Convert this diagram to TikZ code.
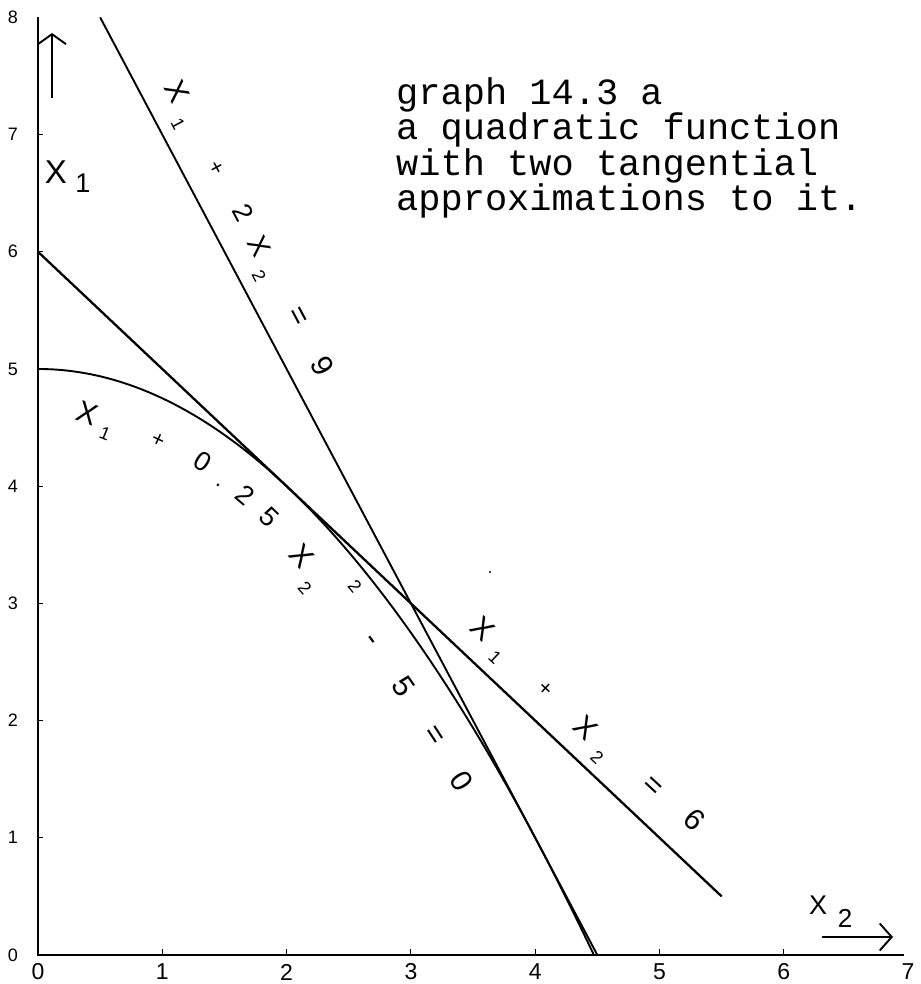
\documentclass[tikz,border=0pt]{standalone}
\usepackage{fontspec}
\setmainfont{Liberation Sans}
\newfontfamily\monof{Liberation Mono}
\usetikzlibrary{arrows.meta}
\tikzset{
  axisline/.style={line width=1.6pt},
  tickmark/.style={line width=1pt},
  graphline/.style={line width=2.3pt},
  steepline/.style={line width=1.9pt},
  curveline/.style={line width=1.9pt},
  glyph/.style={inner sep=0pt},
  ticklab/.style={inner sep=0pt},
  titleline/.style={inner sep=0pt, anchor=base west, font=\monof\fontsize{37}{37}\selectfont},
  axisarrow/.style={line width=1.9pt, -{Straight Barb[length=10pt,width=28pt,line width=1.9pt]}}
}
\newcommand\gl[5]{\node[glyph,rotate=#3,font=\fontsize{#4}{#4}\selectfont] (#1) at (#2) {#5};}
\begin{document}
\begin{tikzpicture}[x=124.3pt,y=117.2pt]
\useasboundingbox (-38pt,-29pt) rectangle (882pt,955pt);
% axes
\coordinate (o) at (0,0);
\coordinate (ytop) at (0,8);
\coordinate (xend) at (6.97,0);
\draw[axisline] (ytop) -- (o) -- (xend);
\foreach \k in {1,...,7} \draw[tickmark] (0,\k) -- ++(5pt,0);
\foreach \k in {1,...,6} \draw[tickmark] (\k,0) -- ++(0,6pt);
% tick labels
\foreach \k in {0,...,8} \node[ticklab,font=\fontsize{18}{18}\selectfont] (yl\k) at (-25pt,\k) {\k};
\foreach \k in {0,...,7} \node[ticklab,font=\fontsize{23}{23}\selectfont] (xl\k) at (\k,-17pt) {\k};
% curve and tangents
\draw[curveline] plot[domain=0:4.4721, samples=120, smooth] (\x,{5-0.25*\x*\x});
\coordinate (a1) at (0,6);
\coordinate (a2) at (5.5,0.5);
\draw[graphline] (a1) -- (a2);
\coordinate (b1) at (0.5,8);
\coordinate (b2) at (4.5,0);
\draw[steepline] (b1) -- (b2);
% axis arrows and labels
\coordinate (ya0) at (14pt,857pt);
\coordinate (ya1) at (14pt,922pt);
\draw[axisarrow] (ya0) -- (ya1);
\coordinate (xa0) at (784pt,18pt);
\coordinate (xa1) at (855pt,18pt);
\draw[axisarrow,-{Straight Barb[length=12pt,width=27pt,line width=1.9pt]}] (xa0) -- (xa1);
\gl{yx}{18pt,783pt}{0}{33}{X}
\gl{yxs}{45pt,772pt}{0}{27}{1}
\gl{xx}{780pt,50pt}{0}{27}{X}
\gl{xxs}{807pt,37pt}{0}{26}{2}
% title
\node[titleline] (t1) at (358pt,850pt) {graph 14.3 a};
\node[titleline] (t2) at (358pt,815pt) {a quadratic function};
\node[titleline] (t3) at (358pt,779pt) {with two tangential};
\node[titleline] (t4) at (358pt,744pt) {approximations to it.};
% label A: x1 + 2x2 = 9
\gl{A1}{139pt,863pt}{-62}{30}{X}
\gl{A2}{140pt,831pt}{-62}{18}{1}
\gl{A3}{178pt,787pt}{-62}{22}{+}
\gl{A4}{205pt,742pt}{-62}{27}{2}
\gl{A5}{221pt,709pt}{-62}{28}{X}
\gl{A6}{221pt,679pt}{-62}{18}{2}
\gl{A7}{259pt,638pt}{-62}{30}{=}
\gl{A8}{285pt,589pt}{-62}{30}{9}
% label B: x1 + 0.25 x2^2 - 5 = 0
\gl{B1}{49pt,542pt}{-20}{30}{X}
\gl{B2}{67pt,521pt}{-22}{18}{1}
\gl{B3}{120pt,515pt}{-25}{22}{+}
\gl{B4}{165pt,493pt}{-32}{27}{0}
\gl{B5}{180pt,470pt}{-36}{22}{.}
\gl{B6}{207pt,460pt}{-40}{27}{2}
\gl{B7}{231pt,438pt}{-44}{27}{5}
\gl{B8}{264pt,399pt}{-48}{30}{X}
\gl{B9}{267pt,367pt}{-48}{18}{2}
\gl{B10}{317pt,369pt}{-50}{18}{2}
\gl{B11}{331pt,313pt}{-53}{30}{-}
\gl{B12}{366pt,268pt}{-55}{30}{5}
\gl{B13}{395pt,219pt}{-57}{30}{=}
\gl{B14}{424pt,174pt}{-58}{30}{0}
% label C: x1 + x2 = 6
\gl{C1}{445pt,326pt}{-43}{30}{X}
\gl{C2}{457pt,298pt}{-43}{18}{1}
\gl{C3}{507pt,266pt}{-43}{22}{+}
\gl{C4}{548pt,227pt}{-43}{30}{X}
\gl{C5}{559pt,198pt}{-43}{18}{2}
\gl{C6}{614pt,168pt}{-43}{30}{=}
\gl{C7}{657pt,135pt}{-43}{30}{6}
% stray dot
\fill (452pt,383pt) circle (1.2pt);
\end{tikzpicture}
\end{document}
